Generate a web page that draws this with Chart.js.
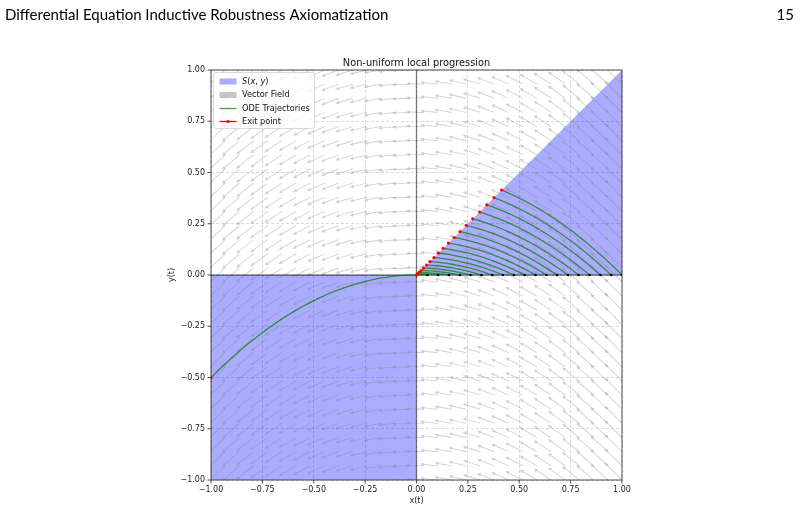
<!DOCTYPE html>
<html>
<head>
<meta charset="utf-8">
<script src="https://cdn.jsdelivr.net/npm/chart.js@4.4.0/dist/chart.umd.min.js"></script>
<style>
  html, body { margin: 0; padding: 0; background: #fff; }
  canvas { display: block; }
</style>
</head>
<body>
<canvas id="myChart" width="800" height="512"></canvas>
<script>
// textos
const pageTitle = 'Differential Equation Inductive Robustness Axiomatization';
const pageNumber = '15';
const chartTitle = 'Non-uniform local progression';
const xLabel = 'x(t)';
const yLabel = 'y(t)';

// marcas de los ejes
const tickValues = [-1, -0.75, -0.5, -0.25, 0, 0.25, 0.5, 0.75, 1];

// puntos de partida sobre y = 0 (trayectorias de la derecha)
const startX = [0.000, 0.053, 0.105, 0.158, 0.211, 0.263, 0.316, 0.368, 0.421, 0.474,
                0.526, 0.579, 0.632, 0.684, 0.737, 0.789, 0.842, 0.895, 0.947, 1.000];

// trayectoria de la izquierda: desde el origen hasta el borde x = -1
const leftStart = {x: 0.0, y: 0.0};
const leftEndX = -1.0;

// bordes de la region S(x, y)
const quadrantTop = [{x: -1, y: 0}, {x: 0, y: 0}];
const wedgeEdge = [{x: 0, y: 0}, {x: 1, y: 1}];

// rejilla del campo vectorial (30 x 30)
const fieldGrid = [-1.000, -0.931, -0.862, -0.793, -0.724, -0.655, -0.586, -0.517, -0.448, -0.379,
                   -0.310, -0.241, -0.172, -0.103, -0.034, 0.034, 0.103, 0.172, 0.241, 0.310,
                   0.379, 0.448, 0.517, 0.586, 0.655, 0.724, 0.793, 0.862, 0.931, 1.000];

// la ecuacion: x' = -1, y' = x
function field(x, y) { return [-1, x]; }

function trajectory(x0, y0, x1) {
  let pts = [];
  let n = 60;
  for (let i = 0; i <= n; i++) {
    let x = x0 + (x1 - x0) * i / n;
    pts.push({x: x, y: y0 + (x0 * x0 - x * x) / 2});
  }
  return pts;
}

// salida por la diagonal y = x
function exitX(x0) { return -1 + Math.sqrt(1 + x0 * x0); }

let fieldData = [];
fieldGrid.forEach(gx => fieldGrid.forEach(gy => {
  let v = field(gx, gy);
  fieldData.push({x: gx, y: gy, u: v[0], v: v[1]});
}));

const green = 'rgba(0,128,0,0.72)';
const arrowGray = 'rgba(128,128,128,0.36)';
let datasets = [];

datasets.push({label: 'S', data: quadrantTop, fill: 'start', backgroundColor: 'rgba(0,0,255,0.33)',
  borderWidth: 0, pointRadius: 0, order: 20});
datasets.push({label: 'S2', data: wedgeEdge, fill: 'origin', backgroundColor: 'rgba(0,0,255,0.33)',
  borderWidth: 0, pointRadius: 0, order: 19});
datasets.push({label: 'Vector Field', data: fieldData, showLine: false, pointRadius: 0, order: 18});
datasets.push({label: 'axis0', data: [{x: -1, y: 0}, {x: 1, y: 0}], borderColor: 'rgba(0,0,0,0.5)',
  borderWidth: 1.3, pointRadius: 0, order: 15});
datasets.push({label: 'axis1', data: [{x: 0, y: -1}, {x: 0, y: 1}], borderColor: 'rgba(0,0,0,0.5)',
  borderWidth: 1.3, pointRadius: 0, order: 15});

startX.forEach(x0 => {
  datasets.push({label: 'traj', data: trajectory(x0, 0, exitX(x0)), borderColor: green,
    borderWidth: 1.3, pointRadius: 0, order: 5});
});
datasets.push({label: 'traj', data: trajectory(leftStart.x, leftStart.y, leftEndX), borderColor: green,
  borderWidth: 1.3, pointRadius: 0, order: 5});

datasets.push({label: 'start', data: startX.map(x0 => ({x: x0, y: 0})), showLine: false,
  pointRadius: 1.3, pointBackgroundColor: '#000', pointBorderWidth: 0, order: 2});
let exits = startX.map(x0 => ({x: exitX(x0), y: exitX(x0)}));
exits.push({x: leftEndX, y: trajectory(leftStart.x, leftStart.y, leftEndX)[60].y});
datasets.push({label: 'Exit point', data: exits, showLine: false,
  pointRadius: 1.6, pointBackgroundColor: 'red', pointBorderWidth: 0, order: 1});

function fmt(v) {
  return (v < -1e-9 ? '\u2212' : '') + Math.abs(v).toFixed(2);
}

const quiverPlugin = {
  id: 'quiver',
  afterDatasetDraw(chart, args) {
    let ds = chart.data.datasets[args.index];
    if (ds.label !== 'Vector Field') return;
    let ctx = chart.ctx, area = chart.chartArea;
    let xs = chart.scales.x, ys = chart.scales.y;
    let ppx = xs.getPixelForValue(1) - xs.getPixelForValue(0);
    let ppy = ys.getPixelForValue(0) - ys.getPixelForValue(1);
    ctx.save();
    ctx.beginPath();
    ctx.rect(area.left, area.top, area.width, area.height);
    ctx.clip();
    ctx.fillStyle = arrowGray;
    args.meta.data.forEach((pt, i) => {
      let d = ds.data[i];
      let mag = Math.hypot(d.u, d.v);
      let len = 17.5 * mag;
      let px = d.u * ppx, py = -d.v * ppy;
      let pl = Math.hypot(px, py);
      let dx = px / pl, dy = py / pl;
      let nx = -dy, ny = dx;
      let tx = pt.x + dx * len, ty = pt.y + dy * len;
      let hl = 4, hw = 1.8, sw = 0.45;
      let bx = tx - dx * hl, by = ty - dy * hl;
      ctx.beginPath();
      ctx.moveTo(pt.x + nx * sw, pt.y + ny * sw);
      ctx.lineTo(bx + nx * sw, by + ny * sw);
      ctx.lineTo(bx + nx * hw, by + ny * hw);
      ctx.lineTo(tx, ty);
      ctx.lineTo(bx - nx * hw, by - ny * hw);
      ctx.lineTo(bx - nx * sw, by - ny * sw);
      ctx.lineTo(pt.x - nx * sw, pt.y - ny * sw);
      ctx.closePath();
      ctx.fill();
    });
    ctx.restore();
  },
  afterDraw(chart) {
    let ctx = chart.ctx, a = chart.chartArea;
    let xs = chart.scales.x, ys = chart.scales.y;
    ctx.save();
    // marco y marcas
    ctx.strokeStyle = '#222';
    ctx.lineWidth = 0.8;
    ctx.strokeRect(a.left, a.top, a.right - a.left, a.bottom - a.top);
    tickValues.forEach(v => {
      let px = xs.getPixelForValue(v), py = ys.getPixelForValue(v);
      ctx.beginPath();
      ctx.moveTo(px, a.bottom); ctx.lineTo(px, a.bottom + 3.5);
      ctx.moveTo(a.left, py); ctx.lineTo(a.left - 3.5, py);
      ctx.stroke();
    });
    // titulo
    ctx.fillStyle = '#111';
    ctx.font = '9.8px "DejaVu Sans"';
    ctx.textAlign = 'center';
    ctx.textBaseline = 'alphabetic';
    ctx.fillText(chartTitle, (a.left + a.right) / 2, 65.5);
    // cabecera
    ctx.font = '15px Lato';
    ctx.textAlign = 'left';
    ctx.fillStyle = '#000';
    ctx.fillText(pageTitle, 5, 20, 386);
    ctx.textAlign = 'right';
    ctx.fillText(pageNumber, 794, 20);

    // leyenda
    let lx = 213.5, ly = 72.5, lw = 101, lh = 56;
    ctx.beginPath();
    ctx.roundRect(lx, ly, lw, lh, 2.5);
    ctx.fillStyle = 'rgba(255,255,255,0.8)';
    ctx.fill();
    ctx.strokeStyle = '#d0d0d0';
    ctx.lineWidth = 0.8;
    ctx.stroke();
    let rows = [81.5, 95, 108.5, 121.5];
    let hx = 219.5, hwid = 17;
    ctx.fillStyle = 'rgba(0,0,255,0.33)';
    ctx.fillRect(hx, rows[0] - 3, hwid, 6);
    ctx.fillStyle = 'rgba(128,128,128,0.45)';
    ctx.fillRect(hx, rows[1] - 3, hwid, 6);
    ctx.lineWidth = 1.3;
    ctx.strokeStyle = green;
    ctx.beginPath(); ctx.moveTo(hx, rows[2]); ctx.lineTo(hx + hwid, rows[2]); ctx.stroke();
    ctx.strokeStyle = 'red';
    ctx.beginPath(); ctx.moveTo(hx, rows[3]); ctx.lineTo(hx + hwid, rows[3]); ctx.stroke();
    ctx.fillStyle = 'red';
    ctx.beginPath(); ctx.arc(hx + hwid / 2, rows[3], 1.6, 0, Math.PI * 2); ctx.fill();

    ctx.fillStyle = '#111';
    ctx.textAlign = 'left';
    ctx.textBaseline = 'middle';
    let tx = 242;
    // S(x, y) con letras en cursiva
    let parts = [['S', true], ['(', false], ['x', true], [', ', false], ['y', true], [')', false]];
    parts.forEach(p => {
      ctx.font = (p[1] ? 'italic ' : '') + '8.2px "DejaVu Sans"';
      ctx.fillText(p[0], tx, rows[0]);
      tx += ctx.measureText(p[0]).width;
    });
    ctx.font = '8.2px "DejaVu Sans"';
    ctx.fillText('Vector Field', 242, rows[1]);
    ctx.fillText('ODE Trajectories', 242, rows[2]);
    ctx.fillText('Exit point', 242, rows[3]);
    ctx.restore();
  }
};

let ctx = document.getElementById('myChart').getContext('2d');
let chart = new Chart(ctx, {
  type: 'line',
  data: { datasets: datasets },
  plugins: [quiverPlugin],
  options: {
    responsive: false,
    animation: false,
    events: [],
    devicePixelRatio: 1,
    layout: { padding: { left: 160, top: 70, right: 178, bottom: 0 } },
    plugins: { legend: { display: false }, tooltip: { enabled: false }, title: { display: false } },
    scales: {
      x: {
        type: 'linear', min: -1, max: 1,
        afterFit: s => { s.height = 32; },
        ticks: { stepSize: 0.25, autoSkip: false, maxRotation: 0, callback: fmt, padding: 5,
          color: '#222', font: { family: 'DejaVu Sans', size: 8 } },
        grid: { color: 'rgba(176,176,176,0.6)', lineWidth: 0.8, drawTicks: false },
        border: { display: false, dash: [3, 2] },
        title: { display: true, text: xLabel, color: '#222', font: { family: 'DejaVu Sans', size: 8 },
          padding: { top: 0, bottom: 6.5 } }
      },
      y: {
        type: 'linear', min: -1, max: 1,
        afterFit: s => { s.width = 51; },
        ticks: { stepSize: 0.25, autoSkip: false, callback: fmt, padding: 6,
          color: '#222', font: { family: 'DejaVu Sans', size: 8 } },
        grid: { color: 'rgba(176,176,176,0.6)', lineWidth: 0.8, drawTicks: false },
        border: { display: false, dash: [3, 2] },
        title: { display: true, text: yLabel, color: '#222', font: { family: 'DejaVu Sans', size: 8 },
          padding: { top: 7, bottom: 0 } }
      }
    }
  }
});
</script>
</body>
</html>
